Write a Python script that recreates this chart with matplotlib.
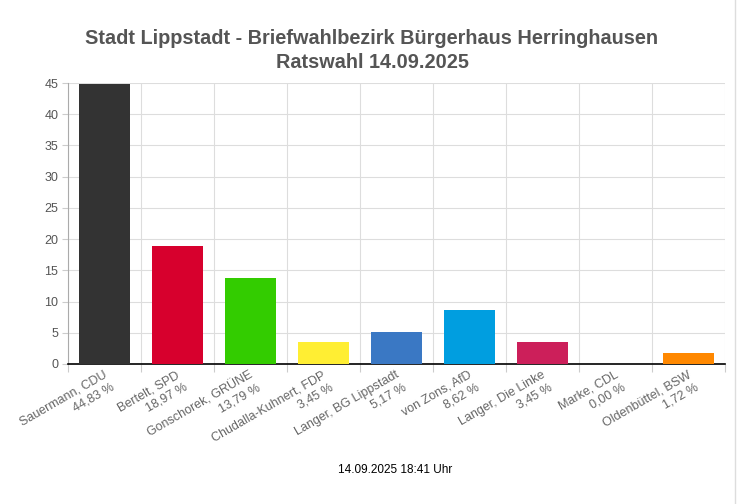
import matplotlib.pyplot as plt
import numpy as np
from matplotlib.lines import Line2D

kandidaten = ['Sauermann, CDU', 'Bertelt, SPD', 'Gonschorek, GRÜNE',
              'Chudalla-Kuhnert, FDP', 'Langer, BG Lippstadt', 'von Zons, AfD',
              'Langer, Die Linke', 'Marke, CDL', 'Oldenbüttel, BSW']
prozent = [44.83, 18.97, 13.79, 3.45, 5.17, 8.62, 3.45, 0.00, 1.72]
farben = ['#333333', '#d7002d', '#33cc00', '#ffee33', '#3a78c4',
          '#009ee0', '#cc1f5a', '#999999', '#ff8800']
y_ticks = [0, 5, 10, 15, 20, 25, 30, 35, 40, 45]

plt.rcParams['font.family'] = ['Liberation Sans', 'DejaVu Sans']

fig = plt.figure(figsize=(7.44, 5.04), dpi=100)
ax = fig.add_axes([68 / 744, 1 - 364 / 504, 657 / 744, 281 / 504])

x = np.arange(len(kandidaten))
ax.bar(x, prozent, width=0.71, color=farben, zorder=3)

ax.set_xlim(-0.5, len(kandidaten) - 0.5)
ax.set_ylim(0, 45)
ax.set_yticks(y_ticks)
ax.set_yticklabels([str(t) for t in y_ticks], color='#555555', fontsize=9)

# Gitter an den Kategoriegrenzen
ax.set_xticks(np.arange(len(kandidaten) + 1) - 0.5)
ax.set_xticklabels([])
ax.grid(True, color='#dddddd', linewidth=0.8, zorder=0)
ax.tick_params(axis='x', length=6, color='#cccccc')
ax.tick_params(axis='y', length=4, color='#cccccc', pad=3)

for s in ['top', 'right']:
    ax.spines[s].set_visible(False)
ax.spines['left'].set_color('#aaaaaa')
ax.spines['bottom'].set_color('#000000')
ax.spines['bottom'].set_linewidth(1.2)

for i, (name, p) in enumerate(zip(kandidaten, prozent)):
    label = name + '\n' + f'{p:.2f}'.replace('.', ',') + ' %'
    ax.text(i - 0.02, -0.8, label, rotation=30, ha='right', va='top',
            rotation_mode='anchor', multialignment='right',
            fontsize=9, color='#666666', linespacing=1.25)

fig.text(0.5, 1 - 38 / 504, 'Stadt Lippstadt - Briefwahlbezirk Bürgerhaus Herringhausen',
         ha='center', va='center', fontsize=14.3, fontweight='bold', color='#555555')
fig.text(0.5, 1 - 62 / 504, 'Ratswahl 14.09.2025',
         ha='center', va='center', fontsize=14.3, fontweight='bold', color='#555555')
fig.text(395 / 744, 1 - 470 / 504, '14.09.2025 18:41 Uhr',
         ha='center', va='center', fontsize=8.5, color='#000000')

fig.add_artist(Line2D([735 / 744, 735 / 744], [0, 1], color='#dddddd', linewidth=1))

fig.savefig('out.png', dpi=100)
